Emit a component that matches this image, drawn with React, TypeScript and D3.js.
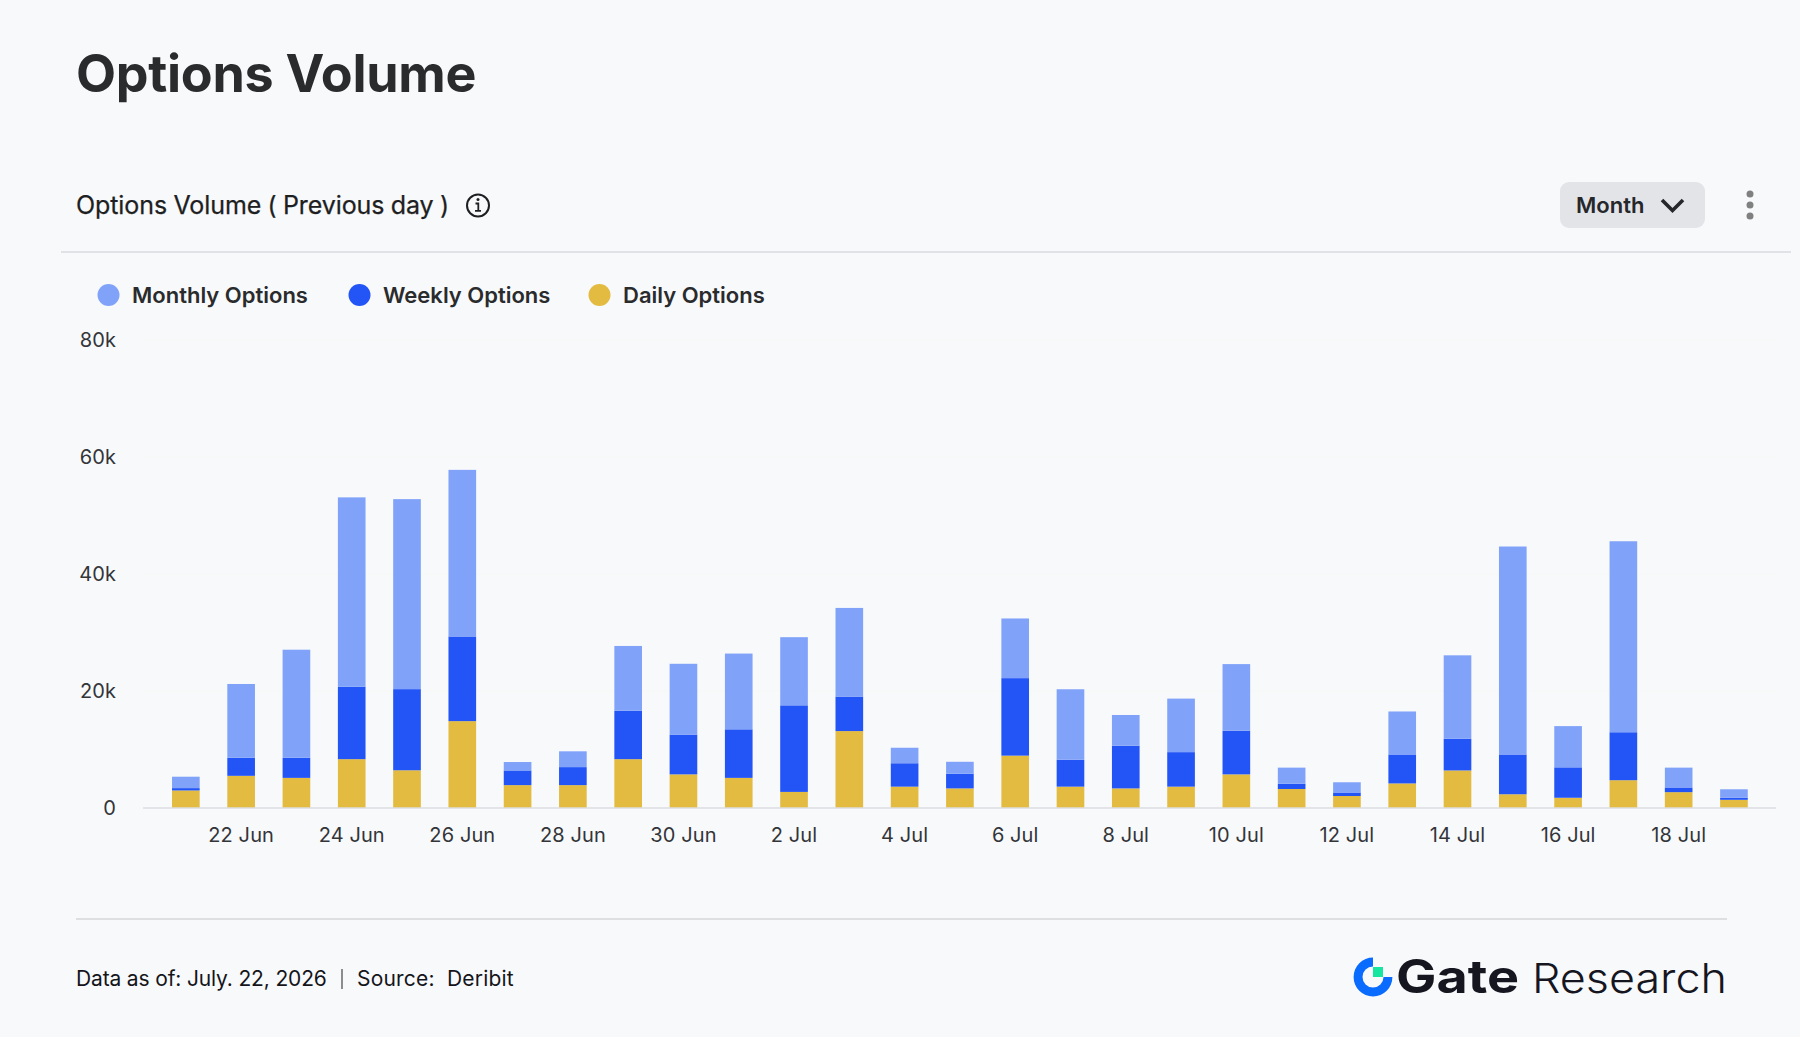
// App.tsx - Options Volume stacked bar chart
import React, { useEffect, useRef } from "react";
import * as d3 from "d3";

const days = [
  "21 Jun", "22 Jun", "23 Jun", "24 Jun", "25 Jun", "26 Jun", "27 Jun", "28 Jun", "29 Jun", "30 Jun",
  "1 Jul", "2 Jul", "3 Jul", "4 Jul", "5 Jul", "6 Jul", "7 Jul", "8 Jul", "9 Jul", "10 Jul",
  "11 Jul", "12 Jul", "13 Jul", "14 Jul", "15 Jul", "16 Jul", "17 Jul", "18 Jul", "19 Jul",
];
const xTicks = [
  "22 Jun", "24 Jun", "26 Jun", "28 Jun", "30 Jun", "2 Jul", "4 Jul", "6 Jul", "8 Jul",
  "10 Jul", "12 Jul", "14 Jul", "16 Jul", "18 Jul",
];
const yTicks = [0, 20000, 40000, 60000, 80000];

// values in contracts
const dailyOptions = [
  3000, 5500, 5150, 8350, 6450, 14850, 3910, 3910, 8350, 5750, 5150, 2750, 13150, 3650, 3350,
  8950, 3650, 3350, 3650, 5750, 3250, 2050, 4200, 6420, 2350, 1750, 4750, 2710, 1400,
];
const weeklyOptions = [
  400, 3080, 3430, 12370, 13870, 14470, 2510, 3080, 8270, 6800, 8300, 14800, 5900, 4000, 2500,
  13250, 4600, 7300, 5900, 7450, 900, 600, 4950, 5430, 6800, 5200, 8200, 800, 350,
];
const monthlyOptions = [
  1950, 12620, 18480, 32380, 32480, 28480, 1440, 2700, 11080, 12100, 12950, 11650, 15150, 2650, 2050,
  10200, 12050, 5250, 9150, 11400, 2750, 1750, 7350, 14250, 35550, 7050, 32650, 3390, 1450,
];

const seriesKeys = ["daily", "weekly", "monthly"];
const seriesColors: any = { daily: "#e3bb40", weekly: "#2354f5", monthly: "#80a3f9" };
const legendNames = ["Monthly Options", "Weekly Options", "Daily Options"];
const legendColors = ["#80a3f9", "#2354f5", "#e3bb40"];
const legendDotX = [108.5, 359.5, 599.5];
const legendTextX = [132, 383, 623];

const FONT = "Inter, 'Noto Sans CJK SC', sans-serif";

const App = () => {
  const ref = useRef<SVGGElement>(null);

  useEffect(() => {
    document.body.style.margin = "0";
    document.body.style.background = "#f8f9fb";
    const g = d3.select(ref.current);
    g.selectAll("*").remove();

    const rows = days.map((d, i) => ({
      day: d,
      daily: dailyOptions[i],
      weekly: weeklyOptions[i],
      monthly: monthlyOptions[i],
    }));

    const x = d3.scaleBand().domain(days).range([158.2, 1761.6]).paddingInner(0.5).paddingOuter(0.25);
    const y = d3.scaleLinear().domain([0, 80000]).range([808, 340]);
    const stacked = d3.stack().keys(seriesKeys)(rows as any);

    // gridlines
    g.append("g")
      .selectAll("line")
      .data(yTicks.slice(1))
      .enter()
      .append("line")
      .attr("x1", 143)
      .attr("x2", 1776)
      .attr("y1", (d) => y(d))
      .attr("y2", (d) => y(d))
      .attr("stroke", "#f6f7f5")
      .attr("stroke-width", 1);

    // bars
    g.append("g")
      .selectAll("g")
      .data(stacked)
      .enter()
      .append("g")
      .attr("fill", (s: any) => seriesColors[s.key])
      .selectAll("rect")
      .data((s: any) => s)
      .enter()
      .append("rect")
      .attr("x", (d: any) => x(d.data.day) as number)
      .attr("width", x.bandwidth())
      .attr("y", (d: any) => y(d[1]))
      .attr("height", (d: any) => y(d[0]) - y(d[1]));

    // baseline
    g.append("line")
      .attr("x1", 143)
      .attr("x2", 1776)
      .attr("y1", y(0))
      .attr("y2", y(0))
      .attr("stroke", "#dcdde0")
      .attr("stroke-width", 1.5);

    // axes
    const xAxis = g.append("g")
      .attr("transform", `translate(0,${y(0)})`)
      .call(d3.axisBottom(x).tickValues(xTicks).tickSize(0).tickPadding(19.5) as any);
    const yAxis = g.append("g")
      .attr("transform", "translate(143,0)")
      .call(
        d3.axisLeft(y)
          .tickValues(yTicks)
          .tickSize(0)
          .tickPadding(27)
          .tickFormat((d: any) => (d === 0 ? "0" : `${d / 1000}k`)) as any
      );
    [xAxis, yAxis].forEach((a) => {
      a.select(".domain").remove();
      a.selectAll("text")
        .attr("font-family", FONT)
        .attr("font-size", 20)
        .attr("letter-spacing", 0.1)
        .attr("fill", "#333539");
    });
  }, []);

  const ringArc = d3.arc()({
    innerRadius: 10.5,
    outerRadius: 19.4,
    startAngle: Math.PI / 2,
    endAngle: Math.PI * 2,
  } as any) as string;

  return (
    <svg
      width={1800}
      height={1037}
      style={{ position: "absolute", left: 0, top: 0, display: "block" }}
      fontFamily={FONT}
    >
      <text x={76} y={92} fontSize={52} fontWeight={700} fill="#2a2b2d" letterSpacing={-0.28}>
        Options Volume
      </text>
      <text
        x={76}
        y={214}
        fontSize={25}
        fontWeight={400}
        fill="#1e1f22"
        stroke="#1e1f22"
        strokeWidth={0.25}
        letterSpacing={-0.08}
        wordSpacing={-0.6}
      >
        Options Volume ( Previous day )
      </text>
      <g stroke="#1e1f22" fill="none">
        <circle cx={478} cy={205.5} r={11} strokeWidth={2} />
        <path d="M475.5 203.5h2.8v7M475 210.8h6" strokeWidth={1.8} />
      </g>
      <circle cx={478} cy={199.5} r={1.5} fill="#1e1f22" />
      <line x1={61} x2={1791} y1={252} y2={252} stroke="#e0e2e7" strokeWidth={2} />

      <rect x={1560} y={182} width={145} height={46} rx={9} fill="#e3e4e8" />
      <text x={1576} y={213} fontSize={22} fontWeight={600} fill="#26272b">
        Month
      </text>
      <path d="M1662 200l10.5 10.5 10.5-10.5" fill="none" stroke="#26272b" strokeWidth={3.6} />
      {[194, 205, 216].map((cy) => (
        <circle key={cy} cx={1750} cy={cy} r={3.5} fill="#808080" />
      ))}

      {legendNames.map((name, i) => (
        <g key={name}>
          <circle cx={legendDotX[i]} cy={295} r={11} fill={legendColors[i]} />
          <text x={legendTextX[i]} y={303} fontSize={22} fontWeight={600} fill="#2a2b2d">
            {name}
          </text>
        </g>
      ))}

      <g ref={ref} />

      <line x1={76} x2={1727} y1={919} y2={919} stroke="#d5d6d9" strokeWidth={1.5} />
      <text x={76} y={985.5} fontSize={21} letterSpacing={-0.15} fill="#14151a">
        Data as of: July. 22, 2026
      </text>
      <line x1={342} x2={342} y1={969} y2={989} stroke="#444" strokeWidth={1.2} />
      <text x={357} y={985.5} fontSize={21} letterSpacing={0.2} fill="#14151a" xmlSpace="preserve">
        Source:  Deribit
      </text>

      <g transform="translate(1373,977)">
        <path d={ringArc} fill="#0a6cff" />
        <rect x={0} y={-10} width={10} height={10} fill="#17e6a1" />
      </g>
      <text x={1396} y={993} fontSize={46} fontWeight={700} fill="#15161f" textLength={123} lengthAdjust="spacingAndGlyphs">
        Gate
      </text>
      <text x={1532} y={993} fontSize={41} fontWeight={300} fill="#15161f" textLength={195} lengthAdjust="spacingAndGlyphs">
        Research
      </text>
    </svg>
  );
};

export default App;
